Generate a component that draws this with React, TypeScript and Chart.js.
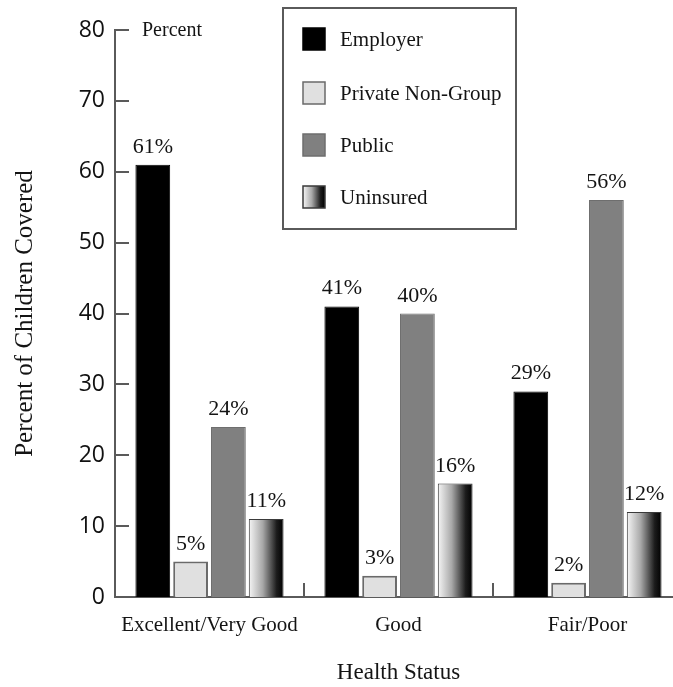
import React, { useEffect, useRef } from "react";
import { Chart, registerables } from "chart.js";

Chart.register(...registerables);

const categories = ["Excellent/Very Good", "Good", "Fair/Poor"];
const seriesNames = ["Employer", "Private Non-Group", "Public", "Uninsured"];
const employer = [61, 41, 29];
const privateNonGroup = [5, 3, 2];
const publicCoverage = [24, 40, 56];
const uninsured = [11, 16, 12];
const yMin = 0;
const yMax = 80;
const yStep = 10;

const SERIF = '"Liberation Serif", "Times New Roman", serif';
const SANS = '"Open Sans", "DejaVu Sans", sans-serif';
const AXIS_COLOR = "#5a5a5a";
const TEXT_COLOR = "#141414";

function uninsuredGradient(ctx: CanvasRenderingContext2D, x0: number, x1: number) {
  const g = ctx.createLinearGradient(x0, 0, x1, 0);
  g.addColorStop(0, "#f6f6f6");
  g.addColorStop(0.4, "#a8a8a8");
  g.addColorStop(0.8, "#1c1c1c");
  g.addColorStop(1, "#000000");
  return g;
}

const decorPlugin = {
  id: "decor",
  beforeDatasetsDraw(chart: any) {
    const ctx = chart.ctx;
    const meta = chart.getDatasetMeta(3);
    meta.data.forEach((el: any) => {
      const { x, width } = el.getProps(["x", "width"], true);
      el.options = Object.assign({}, el.options, {
        backgroundColor: uninsuredGradient(ctx, x - width / 2, x + width / 2),
      });
    });
  },
  afterDatasetsDraw(chart: any) {
    const ctx: CanvasRenderingContext2D = chart.ctx;
    const { left, bottom } = chart.chartArea;
    const xs = chart.scales.x;
    const ys = chart.scales.y;
    ctx.save();

    // inward tick marks on the value axis
    ctx.strokeStyle = AXIS_COLOR;
    ctx.lineWidth = 2;
    ys.ticks.forEach((t: any) => {
      const y = Math.round(ys.getPixelForValue(t.value));
      ctx.beginPath();
      ctx.moveTo(left, y);
      ctx.lineTo(left + 14, y);
      ctx.stroke();
    });

    // short separators between the category groups
    const n = chart.data.labels.length;
    for (let i = 1; i < n; i++) {
      const x = Math.round((xs.getPixelForValue(i - 1) + xs.getPixelForValue(i)) / 2);
      ctx.beginPath();
      ctx.moveTo(x, bottom);
      ctx.lineTo(x, bottom - 14);
      ctx.stroke();
    }

    // value labels above the bars
    ctx.fillStyle = TEXT_COLOR;
    ctx.font = `22px ${SERIF}`;
    ctx.textAlign = "center";
    ctx.textBaseline = "alphabetic";
    chart.data.datasets.forEach((ds: any, di: number) => {
      chart.getDatasetMeta(di).data.forEach((el: any, i: number) => {
        ctx.fillText(`${ds.data[i]}%`, el.x, el.y - 12);
      });
    });

    // unit note next to the top tick
    ctx.font = `20px ${SERIF}`;
    ctx.textAlign = "left";
    ctx.textBaseline = "middle";
    ctx.fillText("Percent", left + 27, ys.getPixelForValue(yMax) + 1);

    // legend box
    const bx = 283, by = 8, bw = 233, bh = 221;
    ctx.fillStyle = "#ffffff";
    ctx.fillRect(bx, by, bw, bh);
    ctx.strokeStyle = AXIS_COLOR;
    ctx.lineWidth = 2;
    ctx.strokeRect(bx, by, bw, bh);
    const rowY = [39, 93, 145, 197];
    const sw = 22;
    ctx.font = `21px ${SERIF}`;
    chart.data.datasets.forEach((ds: any, di: number) => {
      const cy = rowY[di];
      const sx = bx + 20;
      const sy = cy - sw / 2;
      ctx.fillStyle =
        di === 3 ? uninsuredGradient(ctx, sx, sx + sw) : ds.backgroundColor;
      ctx.fillRect(sx, sy, sw, sw);
      ctx.strokeStyle = ds.borderColor;
      ctx.lineWidth = 1.5;
      ctx.strokeRect(sx, sy, sw, sw);
      ctx.fillStyle = TEXT_COLOR;
      ctx.textBaseline = "middle";
      ctx.fillText(ds.label, bx + 57, cy + 1);
    });

    ctx.restore();
  },
};

export default function App() {
  const canvasRef = useRef<HTMLCanvasElement | null>(null);

  useEffect(() => {
    const canvas = canvasRef.current;
    if (!canvas) return;

    const chart = new Chart(canvas, {
      type: "bar",
      data: {
        labels: categories,
        datasets: [
          {
            label: seriesNames[0],
            data: employer,
            backgroundColor: "#000000",
            borderColor: "#000000",
            borderWidth: 1,
          },
          {
            label: seriesNames[1],
            data: privateNonGroup,
            backgroundColor: "#e0e0e0",
            borderColor: "#6a6a6a",
            borderWidth: 2,
          },
          {
            label: seriesNames[2],
            data: publicCoverage,
            backgroundColor: "#808080",
            borderColor: "#6e6e6e",
            borderWidth: 1,
          },
          {
            label: seriesNames[3],
            data: uninsured,
            backgroundColor: "#888888",
            borderColor: "#3a3a3a",
            borderWidth: 1,
          },
        ],
      },
      options: {
        responsive: false,
        animation: false,
        devicePixelRatio: 1,
        layout: { padding: { top: 30, left: 0, right: 0, bottom: 0 } },
        plugins: {
          legend: { display: false },
          tooltip: { enabled: false },
          title: { display: false },
        },
        datasets: {
          bar: { categoryPercentage: 0.8, barPercentage: 0.92 },
        },
        scales: {
          x: {
            type: "category",
            grid: { display: false, drawTicks: false },
            border: { display: true, color: AXIS_COLOR, width: 2 },
            ticks: {
              color: TEXT_COLOR,
              font: { family: SERIF, size: 21 },
              padding: 16,
              maxRotation: 0,
              autoSkip: false,
            },
            title: {
              display: true,
              text: "Health Status",
              color: TEXT_COLOR,
              font: { family: SERIF, size: 23 },
              padding: { top: 0, bottom: 0 },
            },
            afterFit(scale: any) {
              scale.height = 90;
            },
          },
          y: {
            min: yMin,
            max: yMax,
            grid: { display: false, drawTicks: false },
            border: { display: true, color: AXIS_COLOR, width: 2 },
            ticks: {
              stepSize: yStep,
              color: "#111111",
              font: { family: SANS, size: 23 },
              padding: 10,
            },
            title: {
              display: true,
              text: "Percent of Children Covered",
              color: TEXT_COLOR,
              font: { family: SERIF, size: 25 },
              padding: { top: 10, bottom: 0 },
            },
            afterFit(scale: any) {
              scale.width = 115;
            },
          },
        },
      },
      plugins: [decorPlugin],
    });

    return () => chart.destroy();
  }, []);

  return (
    <div
      style={{
        position: "fixed",
        left: 0,
        top: 0,
        width: 673,
        height: 687,
        overflow: "hidden",
        background: "#ffffff",
      }}
    >
      <canvas ref={canvasRef} width={682} height={687} style={{ display: "block" }} />
    </div>
  );
}
